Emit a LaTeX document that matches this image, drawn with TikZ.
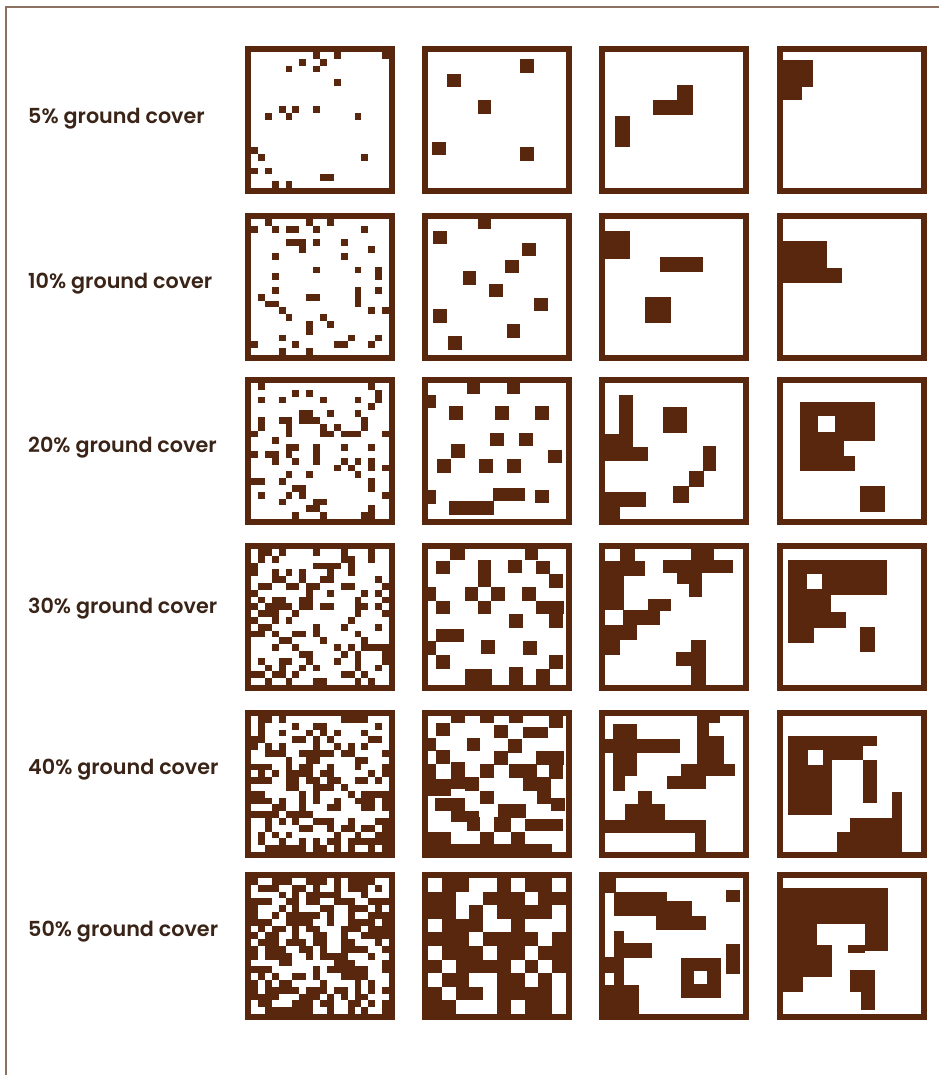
\documentclass[tikz,border=0pt]{standalone}
\usepackage{fontspec}
\usepackage{tikz}
\usepackage{xcolor}

\IfFontExistsTF{Poppins SemiBold}
  {\newfontfamily\labelfont{Poppins SemiBold}}
  {\newfontfamily\poppins{Poppins}\newcommand\labelfont{\poppins\bfseries}}

\definecolor{soil}{RGB}{89,39,13}
\definecolor{ink}{RGB}{58,36,24}
\definecolor{edge}{RGB}{140,112,98}

\begin{document}
\begin{tikzpicture}[x=1pt, y=-1pt,
    panel/.style={draw=soil, line width=6pt},
    blob/.style={fill=soil},
    hole/.style={fill=white},
    rowlabel/.style={anchor=base west, text=ink, inner sep=0pt, font=\labelfont\fontsize{20.7}{24}\selectfont}]
    \useasboundingbox (0,0) rectangle (939,1075);
    \fill[white] (0,0) rectangle (939,1075);
    \draw[edge, line width=1.5pt] (6,1075) |- (939,7);

    % row labels
    \node[rowlabel] (lab05) at (28,124) {5\% ground cover};
    \node[rowlabel] (lab10) at (28,288) {10\% ground cover};
    \node[rowlabel] (lab20) at (28,452) {20\% ground cover};
    \node[rowlabel] (lab30) at (28,613) {30\% ground cover};
    \node[rowlabel] (lab40) at (28,774) {40\% ground cover};
    \node[rowlabel] (lab50) at (28,936) {50\% ground cover};

    % first column: fine 20x20 grid, random cells
    \pgfmathsetseed{1405}
    \foreach \Y/\p in {46/0.05, 213/0.10, 377/0.20, 543/0.30, 710/0.40, 872/0.50} {
        \begin{scope}[shift={(251,\Y+6)}, x=6.9pt, y=-6.8pt]
            \clip (0,0) rectangle (20,20);
            \foreach \i in {0,...,19} {
                \foreach \j in {0,...,19} {
                    \pgfmathsetmacro\hit{rnd<\p}
                    \ifdim\hit pt>0.5pt \fill[blob] (\i,\j) rectangle ++(1,1); \fi
                }
            }
        \end{scope}
    }

    % second column
    \begin{scope}[shift={(428,52)}, x=13.8pt, y=-13.6pt]
        \clip (0,0) rectangle (10,10);
        \foreach \c/\r/\w/\h in {1.4/1.6/1/1, 3.6/3.55/1/1, 6.7/0.55/1/1, 0.3/6.6/1/1, 6.7/7.0/1/1}
            \fill[blob] (\c,\r) rectangle ++(\w,\h);
    \end{scope}
    \begin{scope}[shift={(428,219)}, x=13.8pt, y=-13.6pt]
        \clip (0,0) rectangle (10,10);
        \foreach \c/\r/\w/\h in {3.6/0/1/0.7, 0.35/0.85/1/1, 6.8/1.75/1/1, 5.6/3.0/1/1, 2.5/3.85/1/1,
                4.45/4.75/1/1, 7.7/5.8/1/1, 0.35/6.65/1/1, 5.7/7.75/1/1, 1.45/8.6/1/1}
            \fill[blob] (\c,\r) rectangle ++(\w,\h);
    \end{scope}
    \begin{scope}[shift={(428,383)}, x=13.8pt, y=-13.6pt]
        \clip (0,0) rectangle (10,10);
        \foreach \c/\r/\w/\h in {2.8/0/1/0.8, 5.7/0/1/0.8, 0/0.85/0.6/1, 1.55/1.7/1/1, 4.85/1.7/1/1,
                7.75/1.7/1/1, 4.5/3.65/1/1, 6.6/3.65/1/1, 1.7/4.5/1/1, 8.7/4.9/1/1, 0.65/5.6/1/1,
                3.7/5.6/1/1, 5.75/5.6/1/1, 0/7.9/0.6/1, 7.75/7.85/1/1, 4.7/7.7/2.3/1, 1.55/8.7/3.2/1}
            \fill[blob] (\c,\r) rectangle ++(\w,\h);
    \end{scope}
    \begin{scope}[shift={(428,549)}, x=13.8pt, y=-13.6pt]
        \clip (0,0) rectangle (10,10);
        \foreach \c/\r/\w/\h in {1.6/0/1.1/0.8, 7.0/0/1/0.8, 0.6/0.85/1/1, 3.6/0.8/1/2, 5.8/0.8/1/1,
                7.85/0.85/1/1, 8.8/1.85/1/1, 0/2.8/0.6/1, 2.65/2.8/1/1, 4.55/2.8/1/1, 3.6/3.8/1/1,
                6.8/2.8/1/1, 7.85/3.8/2/1, 8.8/4.8/1/1, 0.6/3.8/1/1, 5.9/4.8/1/1, 0.6/5.85/2/1,
                0/6.8/0.6/1, 3.85/6.7/1/1, 6.9/6.8/1/1, 0.6/7.8/1/1, 8.8/7.8/1/1, 2.65/8.8/2/1.2,
                5.9/8.7/1/1.3, 7.85/8.8/1/1.2}
            \fill[blob] (\c,\r) rectangle ++(\w,\h);
    \end{scope}
    \begin{scope}[shift={(428,716)}, x=13.8pt, y=-13.6pt]
        \clip (0,0) rectangle (10,10);
        \foreach \c/\r/\w/\h in {1.7/0/1/0.5, 3.75/0/1/0.5, 5.9/0/1/0.55, 8.8/0/1/0.9, 0.6/0.5/1/1,
                4.8/0.65/1/1, 6.9/0.8/1.8/0.85, 0/1.6/0.6/1, 2.8/1.6/1/1, 5.8/1.7/1/1, 0.6/2.5/1/1,
                4.8/2.6/1/1, 7.85/2.6/2/1, 1.7/3.4/1/2, 3.75/3.55/1/1, 5.9/3.55/2/1, 6.9/4.5/2/1,
                0/4.6/1.7/1.3, 3.75/5.5/1/1, 0.5/6.0/2.2/1, 1.7/7/2/0.8, 5.1/6.5/2/1, 8.9/6.0/1/1,
                7.0/7.6/2.8/0.85, 2.8/7.45/1/1, 0/8.5/1.7/0.9, 3.75/8.5/1/1, 6.0/8.5/1/1,
                8.8/3.6/1/1, 0/3.5/0.6/1.1, 2.7/4.5/1/1, 4.8/7.4/1.2/1.1, 7.9/5.5/1/1, 0/9.4/9/0.6}
            \fill[blob] (\c,\r) rectangle ++(\w,\h);
    \end{scope}
    \begin{scope}[shift={(428,878)}, x=13.8pt, y=-13.6pt]
        \clip (0,0) rectangle (10,10);
        \foreach \c/\r/\w/\h in {1/0/2/1, 5/0/1/1, 7/0/2/1, 0/1/2/1, 4/1/3/1, 8/1/2/1, 0/2/2/1,
                3/2/1/1, 5/2/4/1, 1/3/3/1, 6/3/1/1, 0/4/3/1, 4/4/4/1, 9/4/1/1, 1/5/3/1, 5/5/2/1,
                8/5/2/1, 0/6/1/1, 2/6/4/1, 7/6/1/1, 9/6/1/1, 1/7/2/1, 5/7/2/1, 8/7/1/1, 0/8/1/1,
                2/8/2/1, 5/8/4/1, 0/9/2/1, 5/9/1/1, 7/9/2/1}
            \fill[blob] (\c,\r) rectangle ++(\w,\h);
    \end{scope}

    % third column
    \begin{scope}[shift={(605,52)}, x=13.8pt, y=-13.6pt]
        \clip (0,0) rectangle (10,10);
        \foreach \c/\r/\w/\h in {0.75/4.7/1.05/2.3, 3.45/3.5/2.9/1.15, 5.25/2.4/1.1/2.2}
            \fill[blob] (\c,\r) rectangle ++(\w,\h);
    \end{scope}
    \begin{scope}[shift={(605,219)}, x=13.8pt, y=-13.6pt]
        \clip (0,0) rectangle (10,10);
        \foreach \c/\r/\w/\h in {0/0.9/1.8/2.05, 4/2.8/3.1/1.1, 2.9/5.7/1.9/1.95}
            \fill[blob] (\c,\r) rectangle ++(\w,\h);
    \end{scope}
    \begin{scope}[shift={(605,383)}, x=13.8pt, y=-13.6pt]
        \clip (0,0) rectangle (10,10);
        \foreach \c/\r/\w/\h in {1/0.85/1.05/2.9, 0/3.75/2.05/1.95, 2.05/4.7/1.05/1, 4.2/1.75/1.75/1.9,
                7.1/4.6/0.95/1.85, 6.1/6.45/1.1/1.2, 4.9/7.6/1.2/1.2, 0/8/3/1.1, 0/9.1/1.1/1}
            \fill[blob] (\c,\r) rectangle ++(\w,\h);
    \end{scope}
    \begin{scope}[shift={(605,549)}, x=13.8pt, y=-13.6pt]
        \clip (0,0) rectangle (10,10);
        \foreach \c/\r/\w/\h in {1.1/0/1.05/0.9, 0/0.9/2.9/1.1, 0/2/1.4/2.5, 3.1/3.7/1.7/0.85,
                1.3/4.5/2.7/1.1, 0/5.6/2.3/1.1, 0/6.7/1.05/1.1, 4.2/0.8/5.1/0.95, 6.2/0/1.7/0.8,
                5.2/1.75/1.8/0.85, 6.1/2.6/0.9/0.95, 6.2/6.7/1.1/3.3, 5.15/7.6/1.05/1}
            \fill[blob] (\c,\r) rectangle ++(\w,\h);
    \end{scope}
    \begin{scope}[shift={(605,716)}, x=13.8pt, y=-13.6pt]
        \clip (0,0) rectangle (10,10);
        \foreach \c/\r/\w/\h in {0.6/0.6/1.7/1.1, 0/1.7/5.4/1, 0.6/2.7/1.7/1.7, 0.6/4.4/0.85/1.1,
                6.7/0/0.8/4.4, 7.5/0/0.8/0.5, 7.35/1.5/1.3/2.05, 5.5/3.55/3.9/0.85, 4.5/4.4/2.85/1,
                2.4/5.55/1/1, 1.45/6.5/2.9/1.15, 0/7.65/7.35/0.95, 6.5/8.6/0.85/1.4}
            \fill[blob] (\c,\r) rectangle ++(\w,\h);
    \end{scope}
    \begin{scope}[shift={(605,878)}, x=13.8pt, y=-13.6pt]
        \clip (0,0) rectangle (10,10);
        \foreach \c/\r/\w/\h in {0/0/0.8/1.1, 0.65/1/3.85/1.8, 4.5/1.7/1.8/1.9, 3.7/2.8/3.6/1,
                8.75/0.85/1/0.95, 0.65/3.9/0.75/5.8, 1.4/4.8/2/1.1, 0/5.8/0.7/1.2, 0/7.9/2.45/2.1,
                5.5/5.9/2.9/2.9, 8.75/4.85/1/2.2}
            \fill[blob] (\c,\r) rectangle ++(\w,\h);
        \fill[hole] (6.45,6.85) rectangle ++(0.95,0.95);
    \end{scope}

    % fourth column
    \begin{scope}[shift={(783,52)}, x=13.8pt, y=-13.6pt]
        \clip (0,0) rectangle (10,10);
        \foreach \c/\r/\w/\h in {0/0.6/2.15/1.95, 0/2.5/1.4/1.05}
            \fill[blob] (\c,\r) rectangle ++(\w,\h);
    \end{scope}
    \begin{scope}[shift={(783,219)}, x=13.8pt, y=-13.6pt]
        \clip (0,0) rectangle (10,10);
        \foreach \c/\r/\w/\h in {0/1.6/3.2/2.05, 0/3.6/4.3/1.1}
            \fill[blob] (\c,\r) rectangle ++(\w,\h);
    \end{scope}
    \begin{scope}[shift={(783,383)}, x=13.8pt, y=-13.6pt]
        \clip (0,0) rectangle (10,10);
        \foreach \c/\r/\w/\h in {1.2/1.4/5.5/2.85, 1.2/4.2/3.2/1.15, 1.2/5.35/4.05/1.15, 5.55/7.6/1.85/1.9}
            \fill[blob] (\c,\r) rectangle ++(\w,\h);
        \fill[hole] (2.55,2.4) rectangle ++(1.25,1.2);
    \end{scope}
    \begin{scope}[shift={(783,549)}, x=13.8pt, y=-13.6pt]
        \clip (0,0) rectangle (10,10);
        \foreach \c/\r/\w/\h in {0.35/0.8/7.2/2.55, 0.35/3.3/3.1/1.35, 0.35/4.6/4.2/1.2,
                0.35/5.8/1.9/1.1, 5.6/5.7/1.1/1.9}
            \fill[blob] (\c,\r) rectangle ++(\w,\h);
        \fill[hole] (1.75,1.85) rectangle ++(1.1,1.1);
    \end{scope}
    \begin{scope}[shift={(780,716)}, x=13.8pt, y=-13.6pt]
        \clip (0.2,0) rectangle (10.2,10);
        \foreach \c/\r/\w/\h in {0.6/1.45/6.4/0.75, 0.6/2.15/5.4/1.05, 0.6/3.2/3.15/4.1,
                6.0/3.2/1.0/3.2, 8.1/5.6/0.75/4.4, 5.1/7.5/3.1/2.5, 4.1/8.5/1/1.5}
            \fill[blob] (\c,\r) rectangle ++(\w,\h);
        \fill[hole] (2.05,2.5) rectangle ++(1.1,1.1);
    \end{scope}
    \begin{scope}[shift={(780,878)}, x=13.8pt, y=-13.6pt]
        \clip (0.2,0) rectangle (10.2,10);
        \foreach \c/\r/\w/\h in {0/0.7/7.85/2.65, 0/3.35/2.65/1.6, 0/4.9/3.75/2.4, 0/7.3/1.7/1.1,
                6.15/3.35/1.7/2.05, 4.95/4.9/1.2/0.6, 5.05/6.8/1.8/1.6, 5.9/8.4/1/1.3}
            \fill[blob] (\c,\r) rectangle ++(\w,\h);
    \end{scope}

    % panel frames
    \foreach \X in {245,422,599,777}
        \foreach \Y in {46,213,377,543,710,872}
            \draw[panel] (\X+3,\Y+3) rectangle ++(144,142);
\end{tikzpicture}
\end{document}
